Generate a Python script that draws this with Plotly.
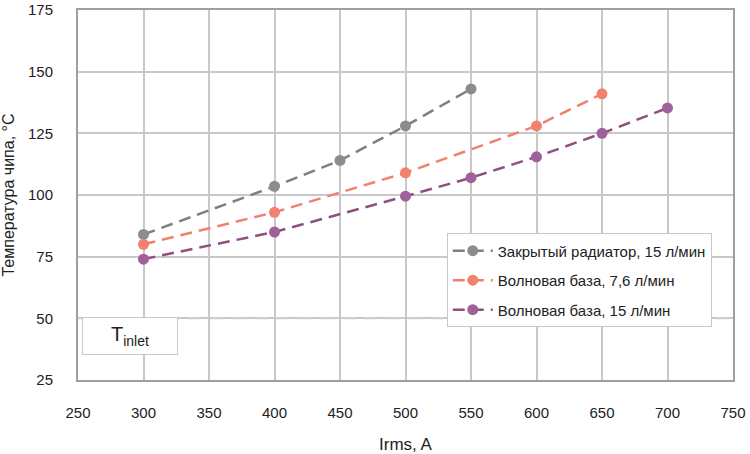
import plotly.graph_objects as go

x_closed = [300, 400, 450, 500, 550]
y_closed = [84, 103.5, 114, 128, 143]
x_wave76 = [300, 400, 500, 600, 650]
y_wave76 = [80, 93, 109, 128, 141]
x_wave15 = [300, 400, 500, 550, 600, 650, 700]
y_wave15 = [74, 85, 99.5, 107, 115.5, 125, 135.3]
names = ["Закрытый радиатор, 15 л/мин", "Волновая база, 7,6 л/мин", "Волновая база, 15 л/мин"]
t_inlet_x = [250, 750]
t_inlet_y = [50, 50]

FONT = "Liberation Sans, Arial, sans-serif"
fig = go.Figure()
fig.add_trace(go.Scatter(x=t_inlet_x, y=t_inlet_y, mode="lines", showlegend=False,
                         line=dict(color="#cfcfcf", width=2, dash="14px,8px"), hoverinfo="skip"))
styles = [("#7f7f7f", "#8c8c8c"), ("#f08070", "#f4806e"), ("#8e5080", "#a0609a")]
for i, (xs, ys, nm, (lc, mc)) in enumerate(zip([x_closed, x_wave76, x_wave15], [y_closed, y_wave76, y_wave15], names, styles)):
    fig.add_trace(go.Scatter(x=xs, y=ys, name=nm, mode="lines+markers", legendgroup=f"g{i}",
                             line=dict(color=lc, width=2.5, dash="12px,7px"),
                             marker=dict(color=mc, size=11)))

fig.add_annotation(x=(130 - 78) / 655, y=(43 - 25) / 150, xref="paper", yref="paper",
                   xanchor="center", yanchor="middle",
                   text="T<sub>inlet</sub>", showarrow=False, bgcolor="white",
                   bordercolor="#c8c8c8", borderwidth=1, width=92, height=34,
                   font=dict(family=FONT, size=20, color="#222"))
fig.update_layout(
    width=750, height=454, margin=dict(l=78, r=17, t=10, b=74, autoexpand=False),
    plot_bgcolor="white", paper_bgcolor="white",
    font=dict(family=FONT, size=15, color="#222"),
    xaxis=dict(range=[250, 750], dtick=50, showgrid=True, gridcolor="#c8c8c8", gridwidth=1.5,
               showline=True, linecolor="#a0a0a0", linewidth=2, mirror=True, zeroline=False,
               ticks="", ticklabelstandoff=18, ticklabeloverflow="allow", automargin=False,
               title=dict(text="Irms, A", font=dict(size=17), standoff=18)),
    yaxis=dict(range=[25, 175], dtick=25, showgrid=True, gridcolor="#c8c8c8", gridwidth=1.5,
               showline=True, linecolor="#a0a0a0", linewidth=2, mirror=True, zeroline=False,
               ticks="", ticklabelstandoff=20, ticklabeloverflow="allow", automargin=False,
               title=dict(text="Температура чипа, °C", font=dict(size=16), standoff=10)),
    legend=dict(x=0.563, y=0.396, xanchor="left", yanchor="top", bgcolor="white",
                bordercolor="#c8c8c8", borderwidth=1, font=dict(size=15), tracegroupgap=7,
                itemwidth=40),
)
fig.write_html("out.html")
